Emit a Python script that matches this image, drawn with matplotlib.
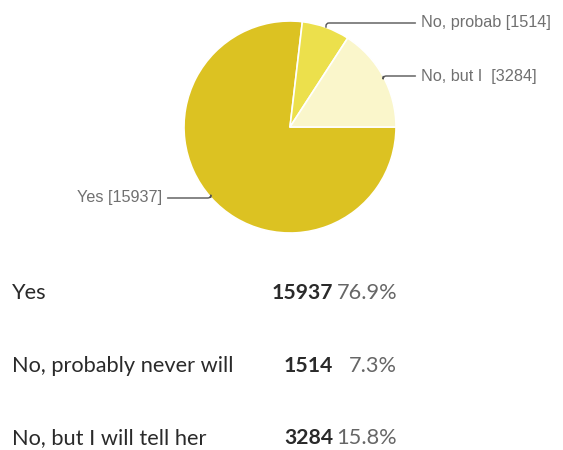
"""
Pie chart of survey answers with a small summary table underneath.
"""

import numpy as np
import matplotlib.pyplot as plt

# datos
respuestas = ["Yes", "No, probably never will", "No, but I will tell her"]
etiquetas_pie = ["Yes [15937]", "No, probab [1514]", "No, but I  [3284]"]
conteos = [15937, 1514, 3284]
porcentajes = ["76.9%", "7.3%", "15.8%"]
colores = ["#dcc222", "#ece04c", "#faf6cb"]

W, H = 563, 450


def fx(px):
    return px / W


def fy(py):
    return 1 - py / H


def main():
    plt.rcParams["font.family"] = ["Liberation Sans", "DejaVu Sans"]
    fig = plt.figure(figsize=(W / 100, H / 100), dpi=100)

    # pie
    cx, cy, r = 290, 127, 106
    ax = fig.add_axes([fx(cx - r), fy(cy + r), fx(2 * r), 2 * r / H])
    wedges, _ = ax.pie(conteos, colors=colores, startangle=0, counterclock=False,
                       wedgeprops=dict(edgecolor="white", linewidth=1.2))
    ax.set_xlim(-1, 1); ax.set_ylim(-1, 1)
    ax.set_aspect("equal")
    ax.axis("off")

    # label positions (figure pixels)
    pos_txt = [(162, 198, "right"), (421, 23, "left"), (421, 76, "left")]
    for w, lab, (tx, ty, ha) in zip(wedges, etiquetas_pie, pos_txt):
        ang = np.deg2rad((w.theta1 + w.theta2) / 2)
        p = (np.cos(ang), np.sin(ang))
        ax.annotate(lab, xy=p, xycoords="data",
                    xytext=(fx(tx), fy(ty)), textcoords="figure fraction",
                    ha=ha, va="center", fontsize=11.7, color="#707070",
                    arrowprops=dict(arrowstyle="-", color="#555555", lw=1.0,
                                    shrinkA=2, shrinkB=0,
                                    connectionstyle="angle,angleA=0,angleB=90,rad=3"))

    # tabla
    filas_y = [293, 366, 438]
    fuente = ["Lato", "DejaVu Sans"]
    for resp, n, pct, y in zip(respuestas, conteos, porcentajes, filas_y):
        fig.text(fx(12), fy(y), resp, ha="left", va="center",
                 fontsize=15.7, color="#2a2a2a", family=fuente)
        fig.text(fx(333), fy(y), str(n), ha="right", va="center",
                 fontsize=15.2, color="#2a2a2a", fontweight="bold", family=fuente)
        fig.text(fx(397), fy(y), pct, ha="right", va="center",
                 fontsize=15.7, color="#666666", family=fuente)

    fig.savefig("out.png", dpi=100, facecolor="white")


if __name__ == "__main__":
    main()
